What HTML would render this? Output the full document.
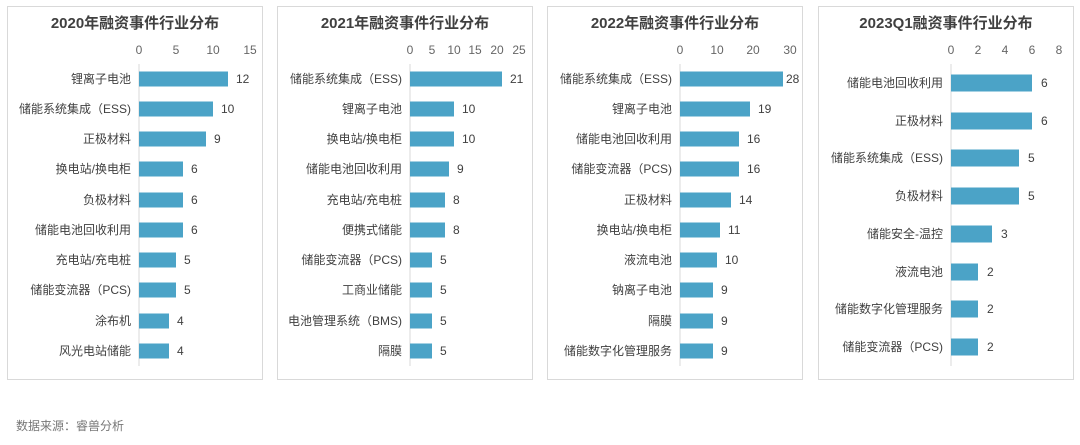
<!DOCTYPE html>
<html><head><meta charset="utf-8"><style>
body{margin:0;background:#fff;}
svg text{font-family:"Liberation Sans","Noto Sans CJK SC",sans-serif;}
</style></head><body>
<svg width="1080" height="440" viewBox="0 0 1080 440" xmlns="http://www.w3.org/2000/svg">
<rect width="1080" height="440" fill="#fff"/>
<g fill="none" stroke="#d9d9d9" stroke-width="1">
<rect x="7.5" y="6.5" width="255" height="373"/>
<rect x="277.5" y="6.5" width="255" height="373"/>
<rect x="547.5" y="6.5" width="255" height="373"/>
<rect x="818.5" y="6.5" width="255" height="373"/>
</g>
<g font-size="15" font-weight="bold" fill="#404040" text-anchor="middle">
<text x="135" y="28">2020年融资事件行业分布</text>
<text x="405" y="28">2021年融资事件行业分布</text>
<text x="675" y="28">2022年融资事件行业分布</text>
<text x="946" y="28">2023Q1融资事件行业分布</text>
</g>
<g font-size="12" fill="#666" text-anchor="middle">
<text x="139" y="54">0</text><text x="176" y="54">5</text><text x="213" y="54">10</text><text x="250" y="54">15</text>
<text x="410" y="54">0</text><text x="432" y="54">5</text><text x="454" y="54">10</text><text x="475" y="54">15</text><text x="497" y="54">20</text><text x="519" y="54">25</text>
<text x="680" y="54">0</text><text x="717" y="54">10</text><text x="753" y="54">20</text><text x="790" y="54">30</text>
<text x="951" y="54">0</text><text x="978" y="54">2</text><text x="1005" y="54">4</text><text x="1032" y="54">6</text><text x="1059" y="54">8</text>
</g>
<g stroke="#d9d9d9"><line x1="139" y1="64" x2="139" y2="366"/><line x1="410" y1="64" x2="410" y2="366"/><line x1="680" y1="64" x2="680" y2="366"/><line x1="951" y1="64" x2="951" y2="366"/></g>
<g fill="#4ba3c7">
<rect x="139" y="71.5" width="89" height="15"/><rect x="139" y="101.5" width="74" height="15"/><rect x="139" y="131.5" width="67" height="15"/><rect x="139" y="161.5" width="44" height="15"/><rect x="139" y="192.5" width="44" height="15"/><rect x="139" y="222.5" width="44" height="15"/><rect x="139" y="252.5" width="37" height="15"/><rect x="139" y="282.5" width="37" height="15"/><rect x="139" y="313.5" width="30" height="15"/><rect x="139" y="343.5" width="30" height="15"/>
<rect x="410" y="71.5" width="92" height="15"/><rect x="410" y="101.5" width="44" height="15"/><rect x="410" y="131.5" width="44" height="15"/><rect x="410" y="161.5" width="39" height="15"/><rect x="410" y="192.5" width="35" height="15"/><rect x="410" y="222.5" width="35" height="15"/><rect x="410" y="252.5" width="22" height="15"/><rect x="410" y="282.5" width="22" height="15"/><rect x="410" y="313.5" width="22" height="15"/><rect x="410" y="343.5" width="22" height="15"/>
<rect x="680" y="71.5" width="103" height="15"/><rect x="680" y="101.5" width="70" height="15"/><rect x="680" y="131.5" width="59" height="15"/><rect x="680" y="161.5" width="59" height="15"/><rect x="680" y="192.5" width="51" height="15"/><rect x="680" y="222.5" width="40" height="15"/><rect x="680" y="252.5" width="37" height="15"/><rect x="680" y="282.5" width="33" height="15"/><rect x="680" y="313.5" width="33" height="15"/><rect x="680" y="343.5" width="33" height="15"/>
<rect x="951" y="74.5" width="81" height="17"/><rect x="951" y="112.5" width="81" height="17"/><rect x="951" y="149.5" width="68" height="17"/><rect x="951" y="187.5" width="68" height="17"/><rect x="951" y="225.5" width="41" height="17"/><rect x="951" y="263.5" width="27" height="17"/><rect x="951" y="300.5" width="27" height="17"/><rect x="951" y="338.5" width="27" height="17"/>
</g>
<g font-size="12" fill="#404040" text-anchor="end">
<text x="131" y="83">锂离子电池</text><text x="131" y="113">储能系统集成（ESS)</text><text x="131" y="143">正极材料</text><text x="131" y="173">换电站/换电柜</text><text x="131" y="204">负极材料</text><text x="131" y="234">储能电池回收利用</text><text x="131" y="264">充电站/充电桩</text><text x="131" y="294">储能变流器（PCS)</text><text x="131" y="325">涂布机</text><text x="131" y="355">风光电站储能</text>
<text x="402" y="83">储能系统集成（ESS)</text><text x="402" y="113">锂离子电池</text><text x="402" y="143">换电站/换电柜</text><text x="402" y="173">储能电池回收利用</text><text x="402" y="204">充电站/充电桩</text><text x="402" y="234">便携式储能</text><text x="402" y="264">储能变流器（PCS)</text><text x="402" y="294">工商业储能</text><text x="402" y="325">电池管理系统（BMS)</text><text x="402" y="355">隔膜</text>
<text x="672" y="83">储能系统集成（ESS)</text><text x="672" y="113">锂离子电池</text><text x="672" y="143">储能电池回收利用</text><text x="672" y="173">储能变流器（PCS)</text><text x="672" y="204">正极材料</text><text x="672" y="234">换电站/换电柜</text><text x="672" y="264">液流电池</text><text x="672" y="294">钠离子电池</text><text x="672" y="325">隔膜</text><text x="672" y="355">储能数字化管理服务</text>
<text x="943" y="87">储能电池回收利用</text><text x="943" y="125">正极材料</text><text x="943" y="162">储能系统集成（ESS)</text><text x="943" y="200">负极材料</text><text x="943" y="238">储能安全-温控</text><text x="943" y="276">液流电池</text><text x="943" y="313">储能数字化管理服务</text><text x="943" y="351">储能变流器（PCS)</text>
</g>
<g font-size="12" fill="#404040">
<text x="236" y="83">12</text><text x="221" y="113">10</text><text x="214" y="143">9</text><text x="191" y="173">6</text><text x="191" y="204">6</text><text x="191" y="234">6</text><text x="184" y="264">5</text><text x="184" y="294">5</text><text x="177" y="325">4</text><text x="177" y="355">4</text>
<text x="510" y="83">21</text><text x="462" y="113">10</text><text x="462" y="143">10</text><text x="457" y="173">9</text><text x="453" y="204">8</text><text x="453" y="234">8</text><text x="440" y="264">5</text><text x="440" y="294">5</text><text x="440" y="325">5</text><text x="440" y="355">5</text>
<text x="786" y="83">28</text><text x="758" y="113">19</text><text x="747" y="143">16</text><text x="747" y="173">16</text><text x="739" y="204">14</text><text x="728" y="234">11</text><text x="725" y="264">10</text><text x="721" y="294">9</text><text x="721" y="325">9</text><text x="721" y="355">9</text>
<text x="1041" y="87">6</text><text x="1041" y="125">6</text><text x="1028" y="162">5</text><text x="1028" y="200">5</text><text x="1001" y="238">3</text><text x="987" y="276">2</text><text x="987" y="313">2</text><text x="987" y="351">2</text>
</g>
<text x="16" y="430" font-size="12" fill="#777">数据来源：睿兽分析</text>
</svg>
</body></html>
